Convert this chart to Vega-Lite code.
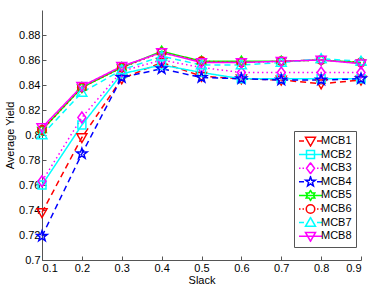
{
  "$schema": "https://vega.github.io/schema/vega-lite/v6.json",
  "autosize": "none",
  "width": 319,
  "height": 250,
  "padding": {"left": 42, "top": 10, "right": 13, "bottom": 29},
  "background": "white",
  "data": {"values": [
    {"s":"MCB1","x":0.1,"y":0.738},{"s":"MCB1","x":0.2,"y":0.798},{"s":"MCB1","x":0.3,"y":0.845},{"s":"MCB1","x":0.4,"y":0.858},{"s":"MCB1","x":0.5,"y":0.847},{"s":"MCB1","x":0.6,"y":0.845},{"s":"MCB1","x":0.7,"y":0.844},{"s":"MCB1","x":0.8,"y":0.841},{"s":"MCB1","x":0.9,"y":0.844},
    {"s":"MCB2","x":0.1,"y":0.760},{"s":"MCB2","x":0.2,"y":0.808},{"s":"MCB2","x":0.3,"y":0.849},{"s":"MCB2","x":0.4,"y":0.856},{"s":"MCB2","x":0.5,"y":0.850},{"s":"MCB2","x":0.6,"y":0.845},{"s":"MCB2","x":0.7,"y":0.845},{"s":"MCB2","x":0.8,"y":0.845},{"s":"MCB2","x":0.9,"y":0.845},
    {"s":"MCB3","x":0.1,"y":0.763},{"s":"MCB3","x":0.2,"y":0.814},{"s":"MCB3","x":0.3,"y":0.851},{"s":"MCB3","x":0.4,"y":0.860},{"s":"MCB3","x":0.5,"y":0.854},{"s":"MCB3","x":0.6,"y":0.850},{"s":"MCB3","x":0.7,"y":0.850},{"s":"MCB3","x":0.8,"y":0.850},{"s":"MCB3","x":0.9,"y":0.850},
    {"s":"MCB4","x":0.1,"y":0.719},{"s":"MCB4","x":0.2,"y":0.785},{"s":"MCB4","x":0.3,"y":0.846},{"s":"MCB4","x":0.4,"y":0.853},{"s":"MCB4","x":0.5,"y":0.846},{"s":"MCB4","x":0.6,"y":0.845},{"s":"MCB4","x":0.7,"y":0.844},{"s":"MCB4","x":0.8,"y":0.844},{"s":"MCB4","x":0.9,"y":0.845},
    {"s":"MCB5","x":0.1,"y":0.804},{"s":"MCB5","x":0.2,"y":0.838},{"s":"MCB5","x":0.3,"y":0.854},{"s":"MCB5","x":0.4,"y":0.867},{"s":"MCB5","x":0.5,"y":0.859},{"s":"MCB5","x":0.6,"y":0.859},{"s":"MCB5","x":0.7,"y":0.859},{"s":"MCB5","x":0.8,"y":0.860},{"s":"MCB5","x":0.9,"y":0.858},
    {"s":"MCB6","x":0.1,"y":0.804},{"s":"MCB6","x":0.2,"y":0.838},{"s":"MCB6","x":0.3,"y":0.854},{"s":"MCB6","x":0.4,"y":0.866},{"s":"MCB6","x":0.5,"y":0.859},{"s":"MCB6","x":0.6,"y":0.858},{"s":"MCB6","x":0.7,"y":0.859},{"s":"MCB6","x":0.8,"y":0.860},{"s":"MCB6","x":0.9,"y":0.858},
    {"s":"MCB7","x":0.1,"y":0.800},{"s":"MCB7","x":0.2,"y":0.834},{"s":"MCB7","x":0.3,"y":0.852},{"s":"MCB7","x":0.4,"y":0.863},{"s":"MCB7","x":0.5,"y":0.856},{"s":"MCB7","x":0.6,"y":0.856},{"s":"MCB7","x":0.7,"y":0.858},{"s":"MCB7","x":0.8,"y":0.861},{"s":"MCB7","x":0.9,"y":0.859},
    {"s":"MCB8","x":0.1,"y":0.806},{"s":"MCB8","x":0.2,"y":0.839},{"s":"MCB8","x":0.3,"y":0.855},{"s":"MCB8","x":0.4,"y":0.866},{"s":"MCB8","x":0.5,"y":0.858},{"s":"MCB8","x":0.6,"y":0.858},{"s":"MCB8","x":0.7,"y":0.859},{"s":"MCB8","x":0.8,"y":0.860},{"s":"MCB8","x":0.9,"y":0.857}
  ]},
  "encoding": {
    "x": {"field": "x", "type": "quantitative", "title": "Slack",
      "scale": {"domain": [0.1, 0.9], "nice": false, "zero": false},
      "axis": {"values": [0.1,0.2,0.3,0.4,0.5,0.6,0.7,0.8,0.9], "format": "~g", "titlePadding": 1}},
    "y": {"field": "y", "type": "quantitative", "title": "Average Yield",
      "scale": {"domain": [0.7, 0.9], "nice": false, "zero": false},
      "axis": {"values": [0.7,0.72,0.74,0.76,0.78,0.8,0.82,0.84,0.86,0.88], "format": "~g", "titlePadding": 3}}
  },
  "layer": [
    {"mark": {"type": "line", "strokeWidth": 1.5},
     "encoding": {
       "color": {"field": "s", "type": "nominal", "legend": null,
         "scale": {"domain": ["MCB1","MCB2","MCB3","MCB4","MCB5","MCB6","MCB7","MCB8"],
                   "range": ["#ff0000","#00ffff","#ff00ff","#0000ff","#00ff00","#ff0000","#00ffff","#ff00ff"]}},
       "strokeDash": {"field": "s", "type": "nominal", "legend": null,
         "scale": {"domain": ["MCB1","MCB2","MCB3","MCB4","MCB5","MCB6","MCB7","MCB8"],
                   "range": [[6,4],[1,0],[1.5,3],[6,4],[1,0],[1.5,3],[6,4],[1,0]]}}}},
    {"mark": {"type": "point", "filled": false, "strokeWidth": 1.5, "size": 100, "opacity": 1},
     "encoding": {
       "color": {"field": "s", "type": "nominal", "legend": null,
         "scale": {"domain": ["MCB1","MCB2","MCB3","MCB4","MCB5","MCB6","MCB7","MCB8"],
                   "range": ["#ff0000","#00ffff","#ff00ff","#0000ff","#00ff00","#ff0000","#00ffff","#ff00ff"]}},
       "shape": {"field": "s", "type": "nominal", "legend": null,
         "scale": {"domain": ["MCB1","MCB2","MCB3","MCB4","MCB5","MCB6","MCB7","MCB8"],
           "range": ["M-1,-0.75L1,-0.75L0,1Z","M-0.8,-0.8H0.8V0.8H-0.8Z","M0,-1.1L0.8,0L0,1.1L-0.8,0Z","M0,-1.1L0.259,-0.356L1.046,-0.34L0.418,0.136L0.647,0.89L0,0.44L-0.647,0.89L-0.418,0.136L-1.046,-0.34L-0.259,-0.356Z","M0,-1L0.289,-0.5L0.866,-0.5L0.577,0L0.866,0.5L0.289,0.5L0,1L-0.289,0.5L-0.866,0.5L-0.577,0L-0.866,-0.5L-0.289,-0.5Z","M0.85,0A0.85,0.85 0 1,1 -0.85,0A0.85,0.85 0 1,1 0.85,0Z","M-1,0.75L1,0.75L0,-1Z","M-1,-0.75L1,-0.75L0,1Z"]}}}},
    {"transform": [{"filter": "datum.x < 0"}],
     "mark": {"type": "point", "filled": false, "strokeWidth": 1.5, "size": 100, "opacity": 1},
     "encoding": {
       "color": {"field": "s", "type": "nominal",
         "scale": {"domain": ["MCB1","MCB2","MCB3","MCB4","MCB5","MCB6","MCB7","MCB8"],
                   "range": ["#ff0000","#00ffff","#ff00ff","#0000ff","#00ff00","#ff0000","#00ffff","#ff00ff"]},
         "legend": {"title": null, "orient": "none", "legendX": 252, "legendY": 121,
           "padding": 4, "symbolSize": 100, "symbolStrokeWidth": 1.5, "symbolOffset": 0, "labelOffset": 11, "rowPadding": 1.6, "clipHeight": 12,
           "strokeColor": "#555555", "fillColor": "white", "labelFontSize": 11, "labelFont": "Liberation Sans", "labelColor": "black"}},
       "shape": {"field": "s", "type": "nominal",
         "scale": {"domain": ["MCB1","MCB2","MCB3","MCB4","MCB5","MCB6","MCB7","MCB8"],
           "range": ["M-1,0H0M2.6,0H3.6M0.3,-0.75L2.3,-0.75L1.3,1Z",
                     "M-1,0H3.6M0.5,-0.8H2.1V0.8H0.5Z",
                     "M-1,0H-0.7M-0.3,0H0M2.6,0H2.9M3.3,0H3.6M1.3,-1.1L2.1,0L1.3,1.1L0.5,0Z",
                     "M-1,0H0M2.6,0H3.6M1.3,-1L1.535,-0.324L2.251,-0.309L1.68,0.124L1.888,0.809L1.3,0.4L0.712,0.809L0.92,0.124L0.349,-0.309L1.065,-0.324Z",
                     "M-1,0H3.6M1.3,-1L1.589,-0.5L2.166,-0.5L1.877,0L2.166,0.5L1.589,0.5L1.3,1L1.011,0.5L0.434,0.5L0.723,0L0.434,-0.5L1.011,-0.5Z",
                     "M-1,0H-0.7M-0.3,0H0M2.6,0H2.9M3.3,0H3.6M2.15,0A0.85,0.85 0 1,1 0.45,0A0.85,0.85 0 1,1 2.15,0Z",
                     "M-1,0H0M2.6,0H3.6M0.3,0.75L2.3,0.75L1.3,-1Z",
                     "M-1,0H3.6M0.3,-0.75L2.3,-0.75L1.3,1Z"]},
         "legend": {"title": null, "orient": "none", "legendX": 252, "legendY": 121,
           "padding": 4, "symbolSize": 100, "symbolStrokeWidth": 1.5, "symbolOffset": 0, "labelOffset": 11, "rowPadding": 1.6, "clipHeight": 12,
           "strokeColor": "#555555", "fillColor": "white", "labelFontSize": 11, "labelFont": "Liberation Sans", "labelColor": "black"}}}}
  ],
  "resolve": {"scale": {"color": "independent", "shape": "independent", "strokeDash": "independent"}, "legend": {"color": "independent", "shape": "independent"}},
  "config": {
    "view": {"stroke": null},
    "axis": {"grid": false, "domainColor": "#555555", "tickColor": "#555555", "tickSize": -4, "labelPadding": 6,
      "labelFont": "Liberation Sans", "labelFontSize": 11, "labelColor": "black",
      "titleFont": "Liberation Sans", "titleFontSize": 11, "titleFontWeight": "normal", "titleColor": "black"}
  }
}
